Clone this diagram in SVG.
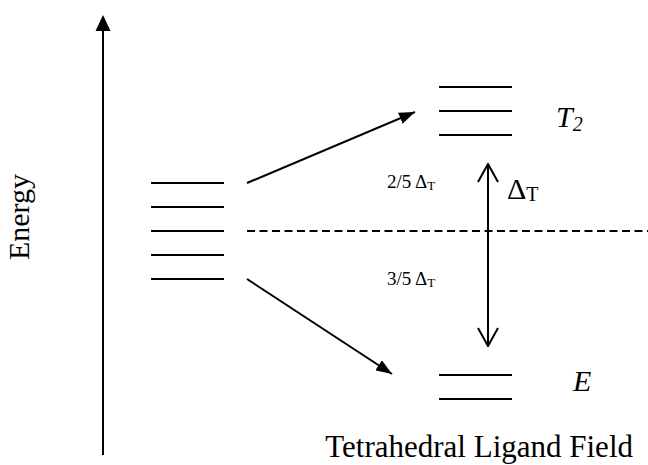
<svg xmlns="http://www.w3.org/2000/svg" width="648" height="465" viewBox="0 0 648 465">
<style>
.lv{stroke:#000;stroke-width:2;fill:none}
.ln{stroke:#000;stroke-width:2;fill:none}
.t{font-family:"Liberation Serif","Times New Roman",serif;fill:#000}
.it{font-style:italic}
</style>
<defs>
<marker id="ah" viewBox="0 0 16 12" refX="16" refY="6" markerWidth="16" markerHeight="12" markerUnits="userSpaceOnUse" orient="auto">
<path d="M0,0 L16,6 L0,12 Z" fill="#000"/>
</marker>
<marker id="oh" viewBox="0 0 20 22" refX="19" refY="11" markerWidth="20" markerHeight="22" markerUnits="userSpaceOnUse" orient="auto-start-reverse">
<path d="M1,1 L19,11 L1,21" fill="none" stroke="#000" stroke-width="2"/>
</marker>
</defs>
<g id="axis">
<line class="ln" x1="103" y1="455" x2="103" y2="30"/>
<path d="M103,15 L95.5,31 L110.5,31 Z" fill="#000"/>
<text class="t" font-size="30" transform="translate(29,217) rotate(-90)" text-anchor="middle">Energy</text>
</g>
<g id="free-ion">
<line class="lv" x1="151" y1="183" x2="224" y2="183"/>
<line class="lv" x1="151" y1="207" x2="224" y2="207"/>
<line class="lv" x1="151" y1="231" x2="224" y2="231"/>
<line class="lv" x1="151" y1="255" x2="224" y2="255"/>
<line class="lv" x1="151" y1="279" x2="224" y2="279"/>
</g>
<g id="T2">
<line class="lv" x1="439" y1="87" x2="512" y2="87"/>
<line class="lv" x1="439" y1="111" x2="512" y2="111"/>
<line class="lv" x1="439" y1="135" x2="512" y2="135"/>
<text class="t it" x="556" y="127" font-size="30">T<tspan font-size="20" dy="4">2</tspan></text>
</g>
<g id="E">
<line class="lv" x1="439" y1="375" x2="512" y2="375"/>
<line class="lv" x1="439" y1="399" x2="512" y2="399"/>
<text class="t it" x="573" y="391" font-size="30">E</text>
</g>
<g id="connectors">
<line class="ln" x1="247" y1="183" x2="415" y2="112" marker-end="url(#ah)"/>
<line class="ln" x1="247" y1="279" x2="392" y2="374" marker-end="url(#ah)"/>
<line class="ln" x1="488" y1="164" x2="488" y2="346" marker-start="url(#oh)" marker-end="url(#oh)"/>
<line x1="247" y1="231" x2="648" y2="231" stroke="#000" stroke-width="2" stroke-dasharray="8,4.5"/>
</g>
<g id="labels">
<text class="t" x="507" y="199" font-size="30">Δ<tspan font-size="20" dy="2">T</tspan></text>
<text class="t" x="387" y="188" font-size="19">2/5 Δ<tspan font-size="13" dy="2">T</tspan></text>
<text class="t" x="387" y="285" font-size="19">3/5 Δ<tspan font-size="13" dy="2">T</tspan></text>
<text class="t" x="633" y="457" font-size="31" text-anchor="end">Tetrahedral Ligand Field</text>
</g>
</svg>
